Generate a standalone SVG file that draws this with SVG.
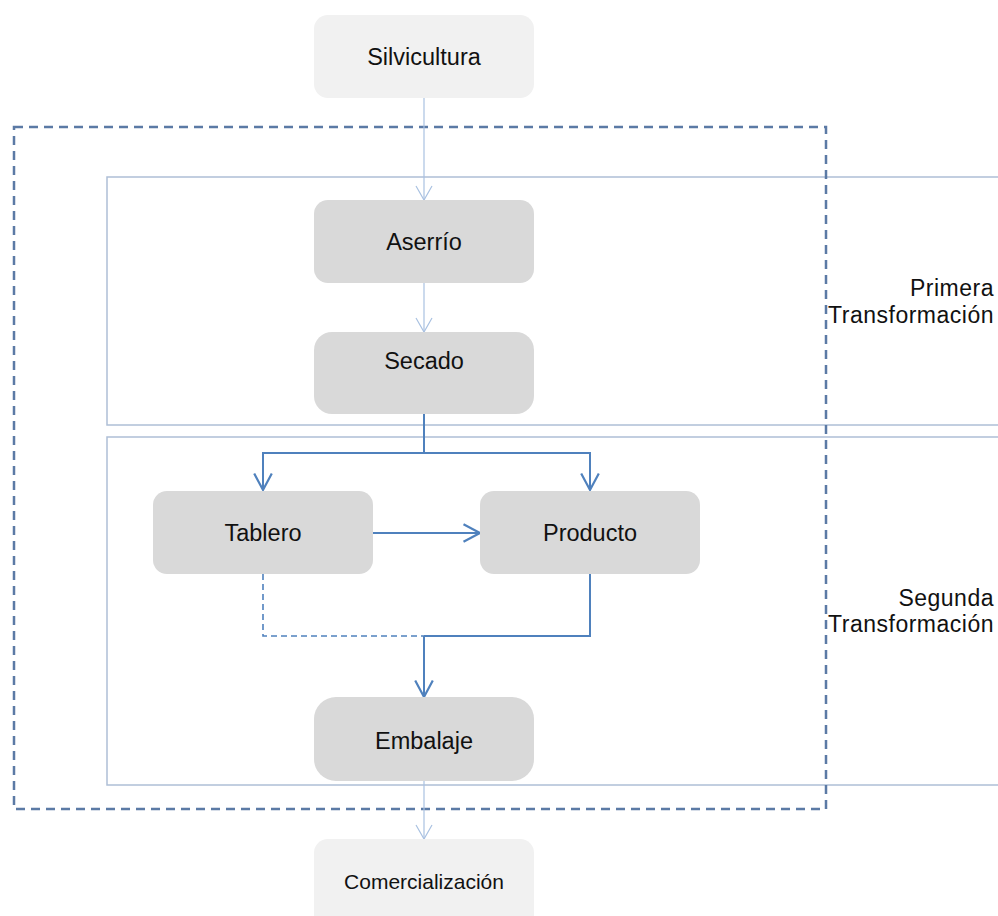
<svg xmlns="http://www.w3.org/2000/svg" width="998" height="916" viewBox="0 0 998 916">
  <style>
    .label { font-family: "Liberation Sans", Arial, sans-serif; font-size: 23.5px; fill: #111; text-anchor: middle; }
    .side { font-family: "Liberation Sans", Arial, sans-serif; font-size: 23px; letter-spacing: 0.5px; fill: #111; text-anchor: end; }
    .light { fill: #f1f1f1; }
    .grey { fill: #d9d9d9; }
    .band { fill: none; stroke: #aebfd6; stroke-width: 1.5; }
    .scope { fill: none; stroke: #5b7aa5; stroke-width: 2.5; stroke-dasharray: 9 6; }
    .thin { fill: none; stroke: #a9c1e1; stroke-width: 1.2; }
    .flow { fill: none; stroke: #4f81bd; stroke-width: 2; }
    .flow-dash { fill: none; stroke: #4f81bd; stroke-width: 1.6; stroke-dasharray: 6 4; }
  </style>
  <defs>
    <marker id="tipThin" markerUnits="userSpaceOnUse" markerWidth="20" markerHeight="20" viewBox="-1 -1 18 20" refX="14" refY="8" orient="auto">
      <path d="M0,0 L14,8 L0,16" fill="none" stroke="#a9c1e1" stroke-width="1.2"/>
    </marker>
    <marker id="tipFlow" markerUnits="userSpaceOnUse" markerWidth="22" markerHeight="22" viewBox="-1 -1 19 20" refX="15" refY="8" orient="auto">
      <path d="M0,0 L15,8 L0,16" fill="none" stroke="#4f81bd" stroke-width="2"/>
    </marker>
  </defs>

  <rect width="998" height="916" fill="#ffffff"/>

  <!-- process stage bands -->
  <g id="bands">
    <rect class="band" x="107" y="177" width="910" height="248"/>
    <rect class="band" x="107" y="437" width="910" height="348"/>
    <text class="side" x="994" y="296">Primera</text>
    <text class="side" x="994" y="323">Transformación</text>
    <text class="side" x="994" y="606">Segunda</text>
    <text class="side" x="994" y="632">Transformación</text>
  </g>

  <!-- industry scope -->
  <rect id="scope" class="scope" x="14" y="127" width="812" height="682"/>

  <g id="connectors">
    <line class="thin" x1="424" y1="98" x2="424" y2="200" marker-end="url(#tipThin)"/>
    <line class="thin" x1="424" y1="283" x2="424" y2="332" marker-end="url(#tipThin)"/>
    <polyline class="flow" points="424,414 424,453 263,453 263,490" marker-end="url(#tipFlow)"/>
    <polyline class="flow" points="424,453 590,453 590,490" marker-end="url(#tipFlow)"/>
    <line class="flow" x1="373" y1="533" x2="480" y2="533" marker-end="url(#tipFlow)"/>
    <polyline class="flow-dash" points="263,574 263,636 424,636"/>
    <polyline class="flow" points="590,574 590,636 424,636"/>
    <line class="flow" x1="424" y1="636" x2="424" y2="697" marker-end="url(#tipFlow)"/>
    <line class="thin" x1="424" y1="781" x2="424" y2="839" marker-end="url(#tipThin)"/>
  </g>

  <g id="silvicultura">
    <rect class="light" x="314" y="15" width="220" height="83" rx="14"/>
    <text class="label" x="424" y="65">Silvicultura</text>
  </g>
  <g id="aserrio">
    <rect class="grey" x="314" y="200" width="220" height="83" rx="14"/>
    <text class="label" x="424" y="250">Aserrío</text>
  </g>
  <g id="secado">
    <rect class="grey" x="314" y="332" width="220" height="82" rx="18"/>
    <text class="label" x="424" y="369">Secado</text>
  </g>
  <g id="tablero">
    <rect class="grey" x="153" y="491" width="220" height="83" rx="14"/>
    <text class="label" x="263" y="541">Tablero</text>
  </g>
  <g id="producto">
    <rect class="grey" x="480" y="491" width="220" height="83" rx="14"/>
    <text class="label" x="590" y="541">Producto</text>
  </g>
  <g id="embalaje">
    <rect class="grey" x="314" y="697" width="220" height="84" rx="22"/>
    <text class="label" x="424" y="749">Embalaje</text>
  </g>
  <g id="comercializacion">
    <rect class="light" x="314" y="839" width="220" height="100" rx="14"/>
    <text class="label" x="424" y="889" style="font-size:21px">Comercialización</text>
  </g>
</svg>
